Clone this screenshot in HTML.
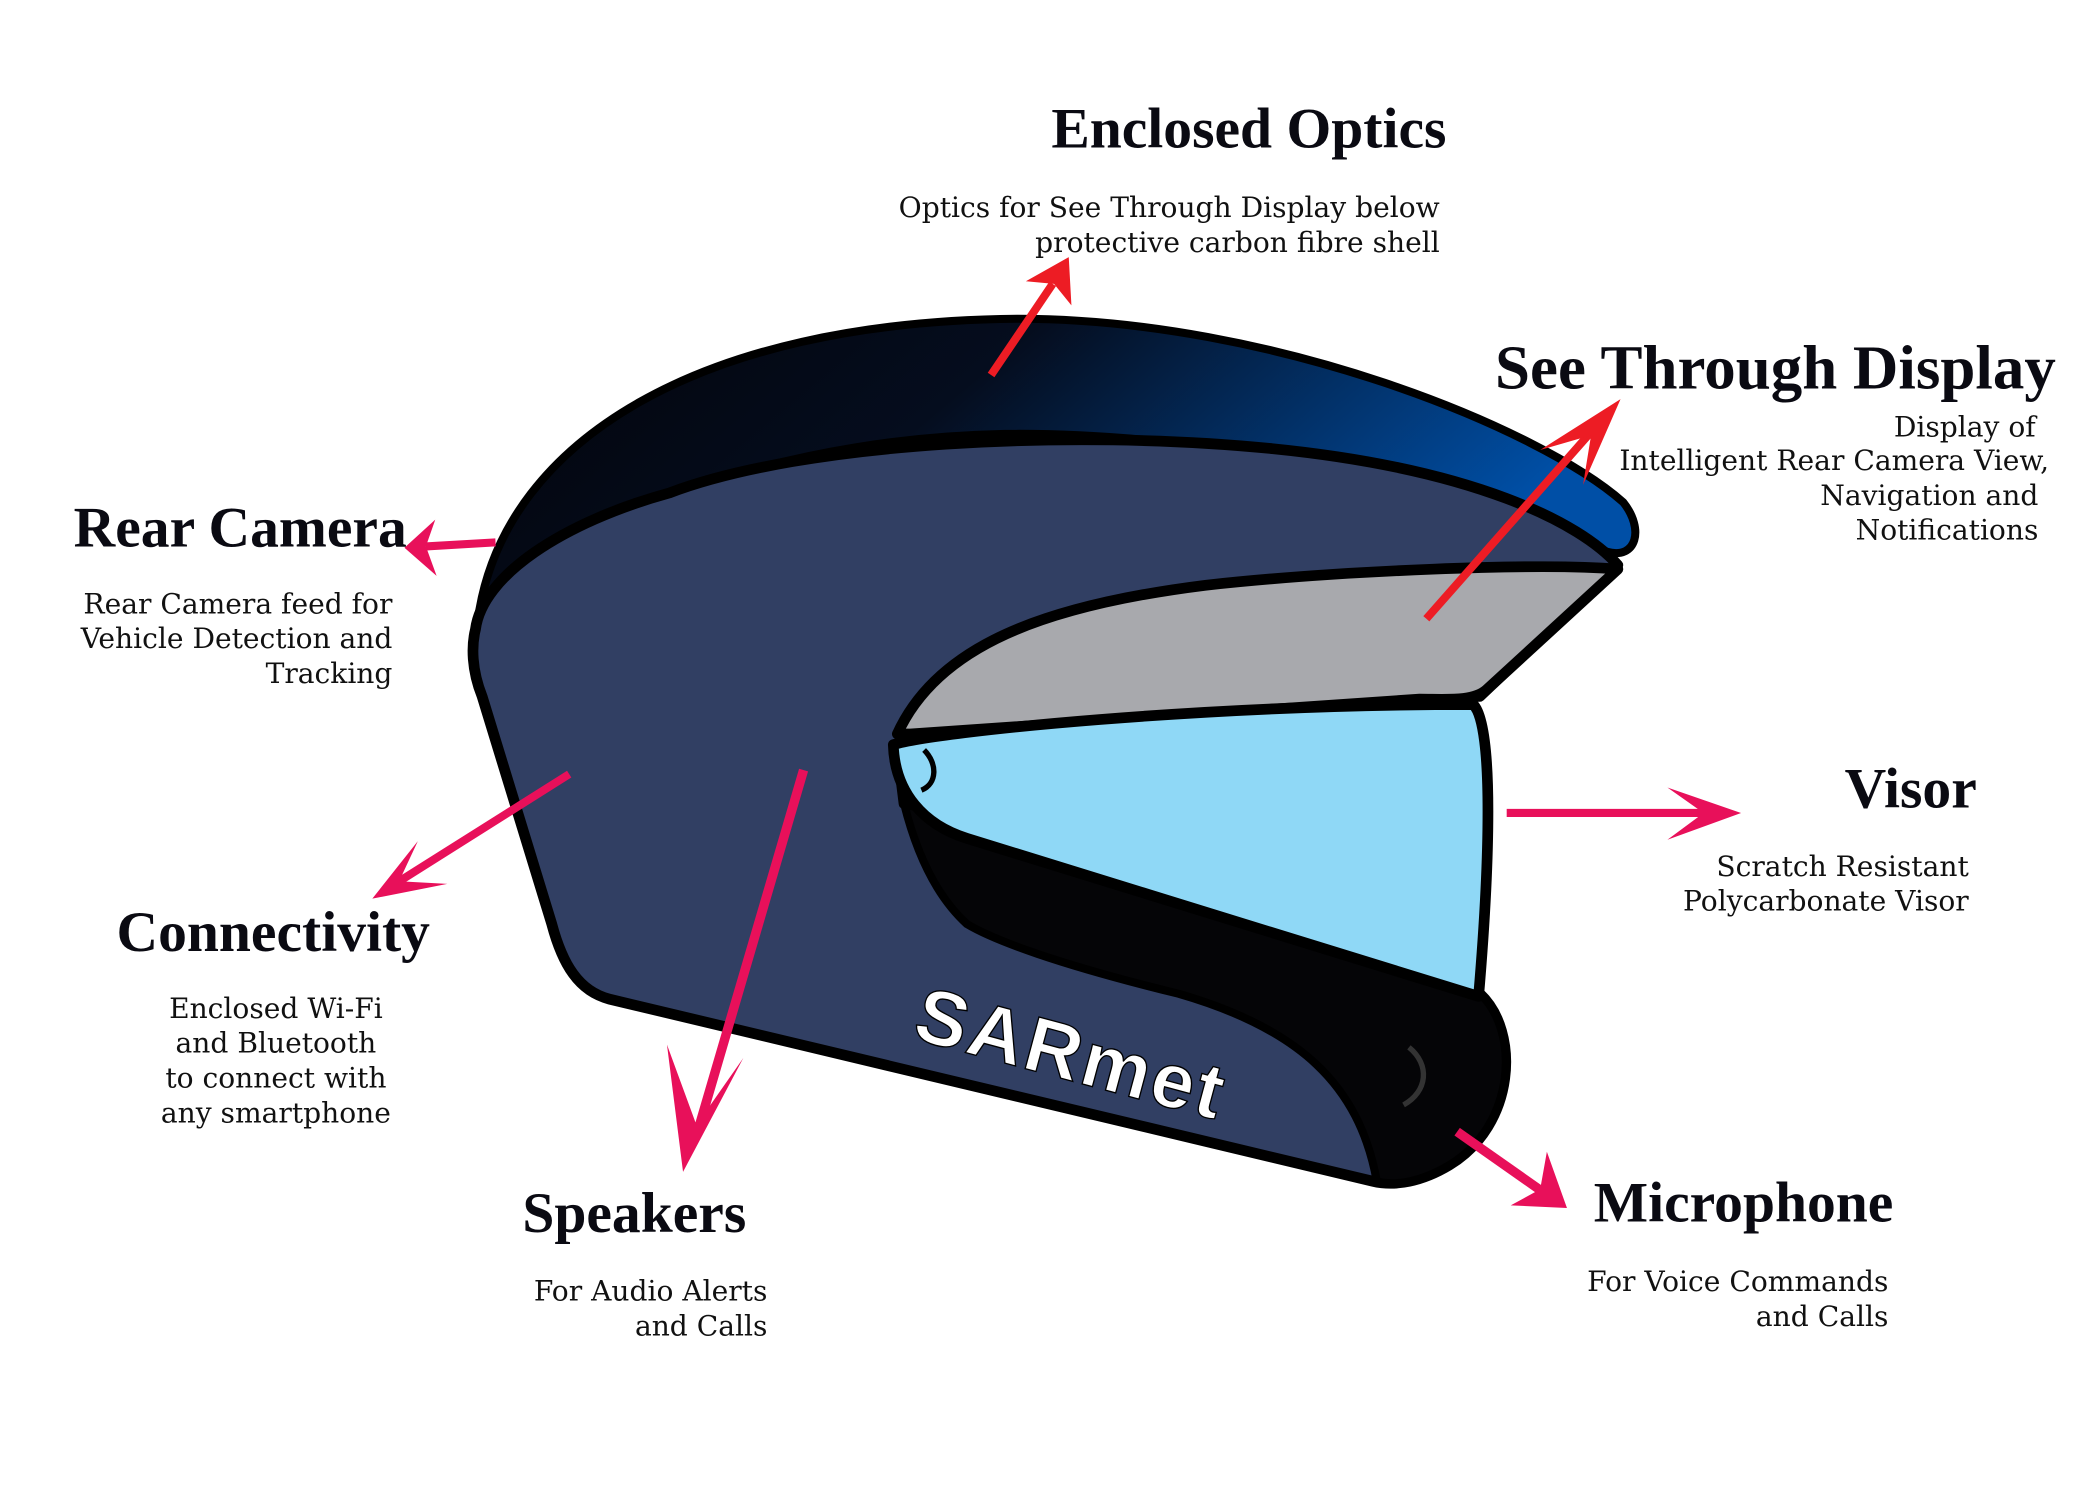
<!DOCTYPE html>
<html><head><meta charset="utf-8">
<style>
html,body{margin:0;padding:0;background:#fff;}
svg{display:block;}
.t{font-family:"Liberation Serif",serif;font-weight:bold;fill:#0a0a12;}
.b{font-family:"DejaVu Serif","Liberation Serif",serif;fill:#111;font-size:21px;}
</style></head>
<body>
<svg width="2100" height="1500" viewBox="0 0 1568 1120" preserveAspectRatio="none">
<defs>
<linearGradient id="shell" x1="0" y1="0" x2="1" y2="0.3">
<stop offset="0" stop-color="#02040a"/>
<stop offset="0.45" stop-color="#050d1e"/>
<stop offset="1" stop-color="#004fa6"/>
</linearGradient>
</defs>
<rect width="1568" height="1120" fill="#fff"/>
<g>
<path d="M358,455 C380,330 520,240 760,238 C950,238 1150,320 1212,375 C1228,395 1222,418 1200,412 C1100,362 900,322 750,324 C600,327 450,372 358,455 Z" fill="url(#shell)" stroke="#000" stroke-width="6"/>
<path d="M355,470 C360,430 420,390 500,368 C600,330 800,320 950,335 C1100,350 1180,390 1208,422 L1105,520 C900,522 700,522 670,560 L675,600 L1105,742 C1135,770 1132,840 1082,870 C1062,882 1042,886 1025,882 L455,746 C432,740 420,720 412,690 L360,520 C352,500 352,482 355,470 Z" fill="#313f63" stroke="#000" stroke-width="8" stroke-linejoin="round"/>
<path d="M675,600 L1105,742 C1135,770 1132,840 1082,870 C1062,882 1042,886 1028,882 C1015,810 970,768 880,742 C790,720 742,702 722,690 C700,670 685,640 675,600 Z" fill="#050507" stroke="#000" stroke-width="6"/>
<path d="M670,548 C700,482 780,452 900,437 C1000,426 1150,420 1208,425 L1110,515 C1100,524 1080,522 1060,522 L680,548 Z" fill="#a8a9ad" stroke="#000" stroke-width="8" stroke-linejoin="round"/>
<path d="M667,556 C700,546 900,526 1100,526 C1116,542 1112,650 1104,744 L722,626 C690,616 668,592 667,556 Z" fill="#8fd8f6" stroke="#000" stroke-width="8" stroke-linejoin="round"/>
<path d="M690,560 C700,570 700,585 688,590" fill="none" stroke="#000" stroke-width="4"/>
<path d="M1052,782 C1068,795 1066,815 1048,825" fill="none" stroke="#333" stroke-width="4"/>
<text x="680" y="775" transform="rotate(15 680 775)" font-family="Liberation Sans,sans-serif" font-weight="bold" font-size="58" fill="#fff" stroke="#000" stroke-width="1" letter-spacing="2">SARmet</text>
</g>
<g>
<g><line x1="740" y1="280" x2="786" y2="212" stroke="#ed1c24" stroke-width="6"/><path d="M798,192 L800,228 L787,212 L766,210 Z" fill="#ed1c24"/></g>
<g><line x1="1065" y1="462" x2="1192" y2="318" stroke="#ed1c24" stroke-width="6"/><path d="M1210,298 L1182,362 L1188,325 L1150,336 Z" fill="#ed1c24"/></g>
<g><line x1="370" y1="405" x2="318" y2="408" stroke="#e8105a" stroke-width="6"/><path d="M302,409 L325,388 L318,408 L326,430 Z" fill="#e8105a"/></g>
<g><line x1="425" y1="578" x2="295" y2="660" stroke="#e8105a" stroke-width="6"/><path d="M278,671 L312,628 L298,658 L334,660 Z" fill="#e8105a"/></g>
<g><line x1="600" y1="575" x2="520" y2="848" stroke="#e8105a" stroke-width="7"/><path d="M510,875 L498,780 L520,840 L555,790 Z" fill="#e8105a"/></g>
<g><line x1="1125" y1="607" x2="1280" y2="607" stroke="#e8105a" stroke-width="6"/><path d="M1300,607 L1245,588 L1272,607 L1245,627 Z" fill="#e8105a"/></g>
<g><line x1="1088" y1="845" x2="1152" y2="890" stroke="#e8105a" stroke-width="7"/><path d="M1170,902 L1155,860 L1150,888 L1128,900 Z" fill="#e8105a"/></g>
</g>
<g>
<text class="t" x="1080" y="110" text-anchor="end" font-size="43">Enclosed Optics</text>
<text class="b" x="1075" y="162" text-anchor="end">Optics for See Through Display below</text>
<text class="b" x="1075" y="188" text-anchor="end">protective carbon fibre shell</text>
</g>
<g>
<text class="t" x="1535" y="290" text-anchor="end" font-size="47">See Through Display</text>
<text class="b" x="1520" y="326" text-anchor="end">Display of</text>
<text class="b" x="1530" y="351" text-anchor="end">Intelligent Rear Camera View,</text>
<text class="b" x="1522" y="377" text-anchor="end">Navigation and</text>
<text class="b" x="1522" y="403" text-anchor="end">Notifications</text>
</g>
<g>
<text class="t" x="55" y="408" font-size="43">Rear Camera</text>
<text class="b" x="293" y="458" text-anchor="end">Rear Camera feed for</text>
<text class="b" x="293" y="484" text-anchor="end">Vehicle Detection and</text>
<text class="b" x="293" y="510" text-anchor="end">Tracking</text>
</g>
<g>
<text class="t" x="87" y="710" font-size="43">Connectivity</text>
<text class="b" x="206" y="760" text-anchor="middle">Enclosed Wi-Fi</text>
<text class="b" x="206" y="786" text-anchor="middle">and Bluetooth</text>
<text class="b" x="206" y="812" text-anchor="middle">to connect with</text>
<text class="b" x="206" y="838" text-anchor="middle">any smartphone</text>
</g>
<g>
<text class="t" x="390" y="920" font-size="43">Speakers</text>
<text class="b" x="573" y="971" text-anchor="end">For Audio Alerts</text>
<text class="b" x="573" y="997" text-anchor="end">and Calls</text>
</g>
<g>
<text class="t" x="1476" y="603" text-anchor="end" font-size="43">Visor</text>
<text class="b" x="1470" y="654" text-anchor="end">Scratch Resistant</text>
<text class="b" x="1470" y="680" text-anchor="end">Polycarbonate Visor</text>
</g>
<g>
<text class="t" x="1190" y="912" font-size="43">Microphone</text>
<text class="b" x="1410" y="964" text-anchor="end">For Voice Commands</text>
<text class="b" x="1410" y="990" text-anchor="end">and Calls</text>
</g>
</svg>
</body></html>
